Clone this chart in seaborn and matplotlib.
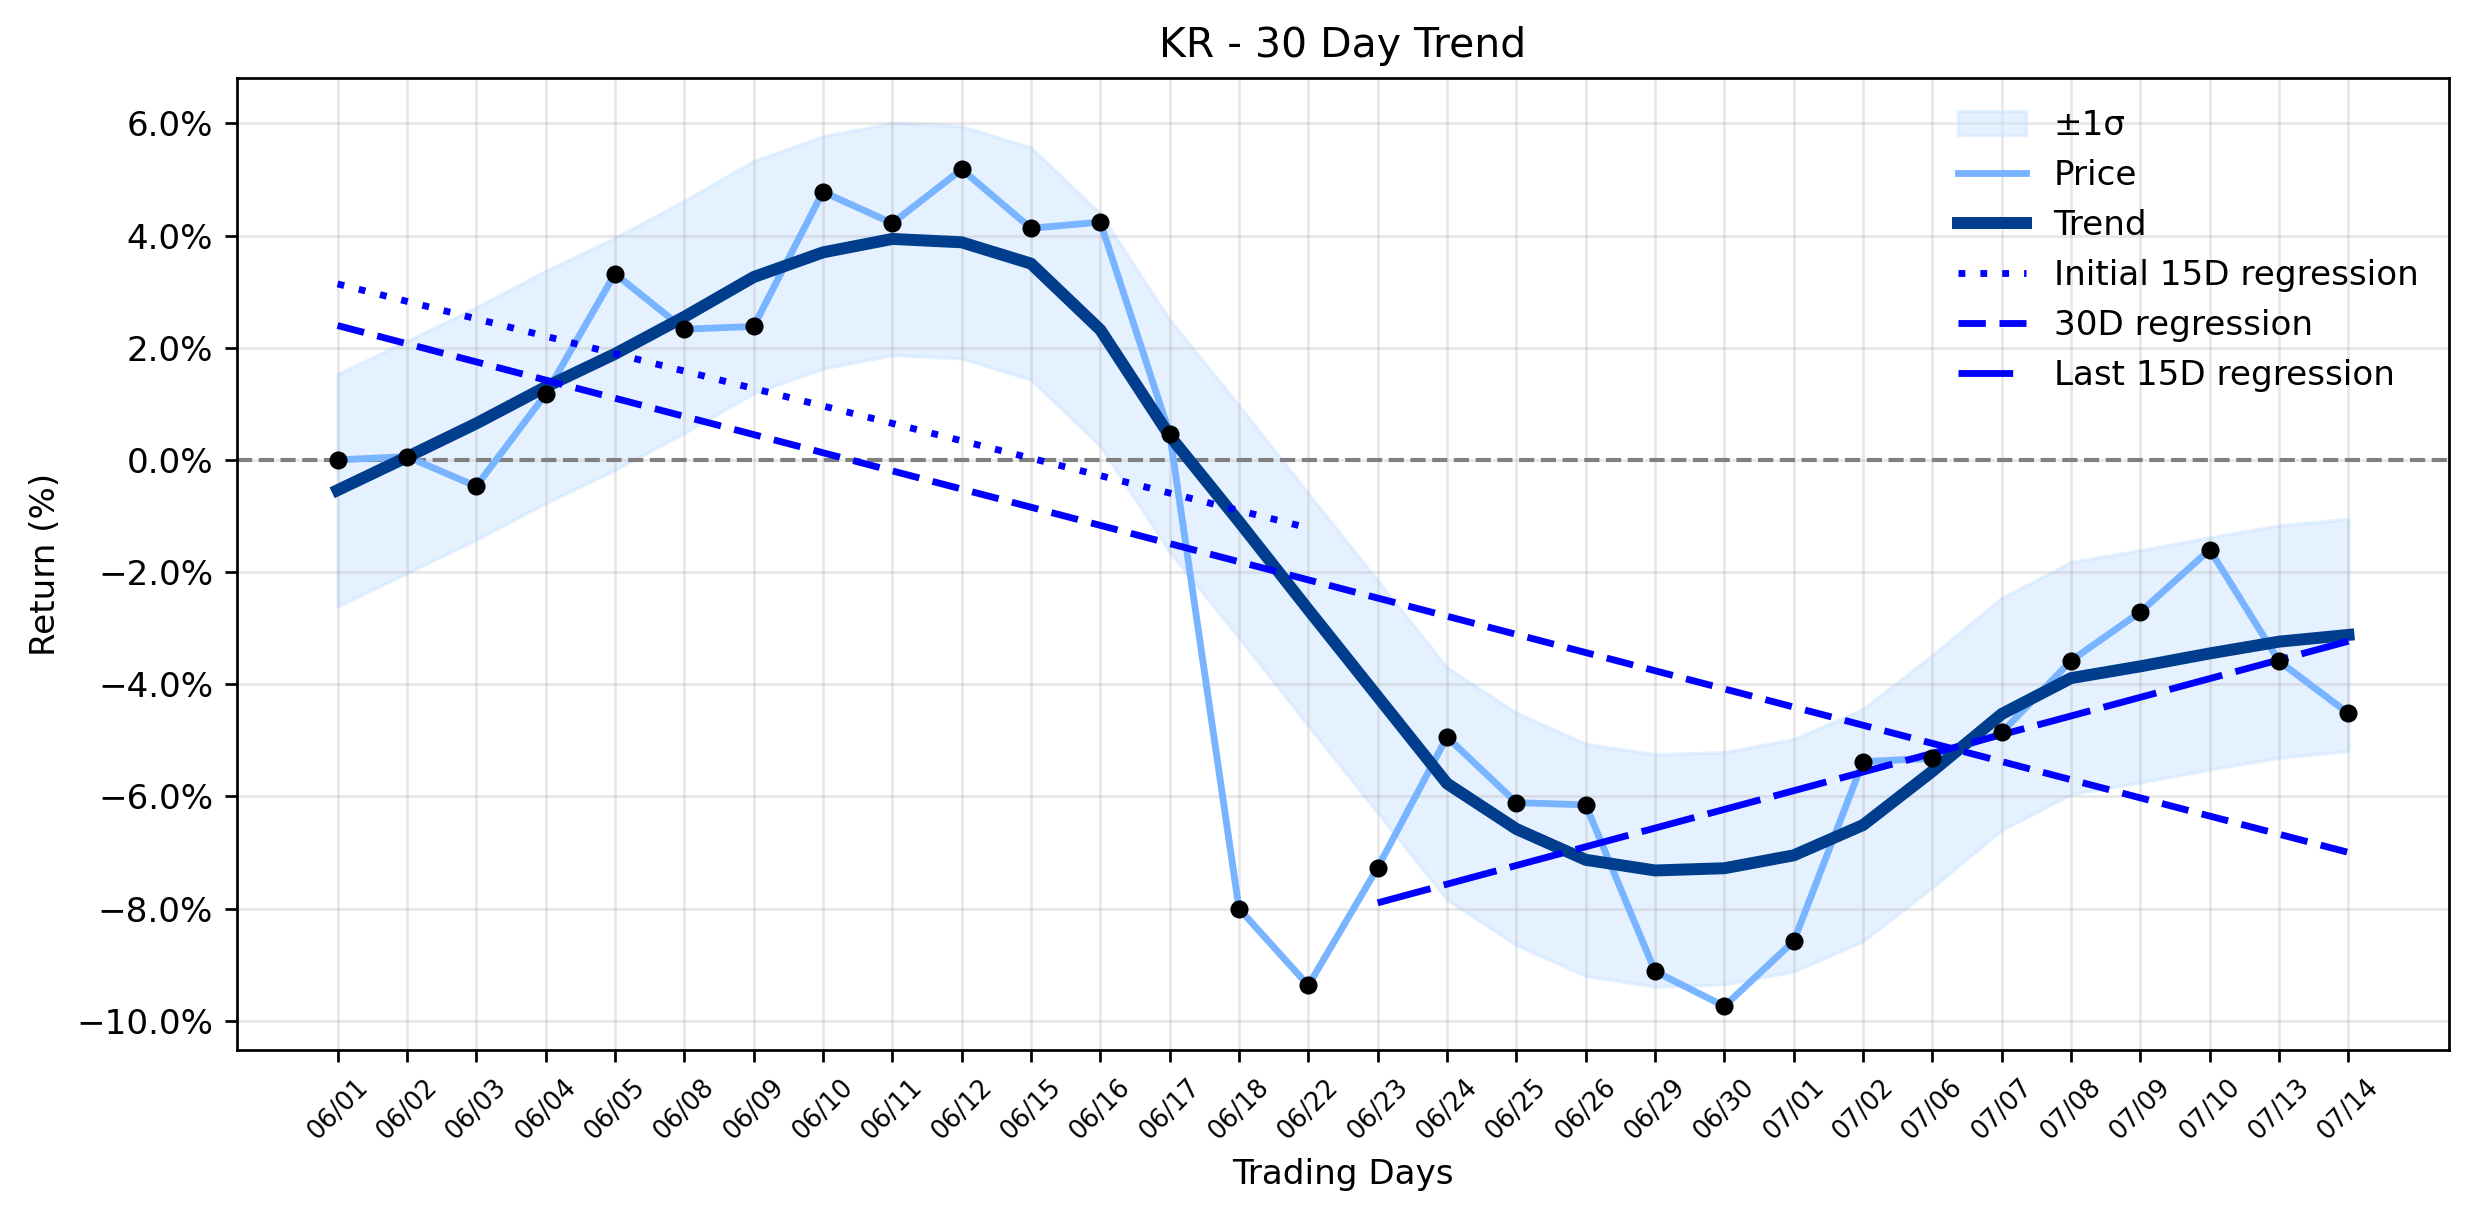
import numpy as np
import pandas as pd
import matplotlib
matplotlib.use("Agg")
import matplotlib.pyplot as plt
from matplotlib.ticker import PercentFormatter
import seaborn as sns

# ---- data (percent returns) ----
dates = ["06/01", "06/02", "06/03", "06/04", "06/05", "06/08", "06/09", "06/10",
         "06/11", "06/12", "06/15", "06/16", "06/17", "06/18", "06/22", "06/23",
         "06/24", "06/25", "06/26", "06/29", "06/30", "07/01", "07/02", "07/06",
         "07/07", "07/08", "07/09", "07/10", "07/13", "07/14"]
price = [0.00, 0.06, -0.47, 1.17, 3.32, 2.33, 2.38, 4.78, 4.22, 5.18, 4.13, 4.24,
         0.47, -8.00, -9.37, -7.27, -4.94, -6.11, -6.15, -9.12, -9.74, -8.58,
         -5.38, -5.32, -4.86, -3.58, -2.71, -1.60, -3.59, -4.52]
trend = [-0.54, 0.05, 0.65, 1.30, 1.89, 2.55, 3.26, 3.70, 3.94, 3.88, 3.50, 2.32,
         0.43, -1.10, -2.67, -4.22, -5.77, -6.58, -7.13, -7.32, -7.28, -7.05,
         -6.51, -5.55, -4.53, -3.89, -3.68, -3.45, -3.24, -3.12]
band_sigma = 2.07

title = "KR - 30 Day Trend"
xlabel = "Trading Days"
ylabel = "Return (%)"

x = np.arange(len(dates))
df = pd.DataFrame({"x": x, "price": price, "trend": trend})
tr = np.array(trend)

# regressions fitted on the price series
def reg(i0, i1):
    xs = x[i0:i1]
    k, b = np.polyfit(xs, np.array(price)[i0:i1], 1)
    return pd.DataFrame({"x": xs, "y": k * xs + b})

reg_init = reg(0, 15)
reg_all = reg(0, 30)
reg_last = reg(15, 30)

DPI = 246
fig, ax = plt.subplots(figsize=(2474 / DPI, 1224 / DPI), dpi=DPI)
fig.subplots_adjust(left=0.0958, right=0.9899, bottom=0.1422, top=0.9363)

ax.fill_between(x, tr - band_sigma, tr + band_sigma, color="#cce5ff", alpha=0.5,
                label="±1σ")
ax.axhline(0, color="gray", ls="--", lw=1.2)
sns.lineplot(data=df, x="x", y="price", color="#78b4ff", lw=2, label="Price", ax=ax)
sns.lineplot(data=df, x="x", y="trend", color="#003d8c", lw=3.5, label="Trend", ax=ax)
sns.lineplot(data=reg_init, x="x", y="y", color="#0000ff", lw=2,
             linestyle=(0, (1, 2.2)), label="Initial 15D regression", ax=ax)
sns.lineplot(data=reg_all, x="x", y="y", color="#0000ff", lw=2,
             linestyle=(0, (4, 2)), label="30D regression", ax=ax)
sns.lineplot(data=reg_last, x="x", y="y", color="#0000ff", lw=2,
             linestyle=(0, (8, 2)), label="Last 15D regression", ax=ax)
sns.scatterplot(data=df, x="x", y="price", color="black", s=28, linewidth=0,
                zorder=5, legend=False, ax=ax)

ax.set_xlim(-1.45, 30.45)
ax.set_ylim(-10.52, 6.81)
ax.set_xticks(x)
ax.set_xticklabels(dates, rotation=45, fontsize=7.5)
ax.yaxis.set_major_formatter(PercentFormatter(decimals=1))
ax.tick_params(axis="y", labelsize=10)
ax.grid(True, alpha=0.3)
ax.set_title(title, fontsize=12)
ax.set_xlabel(xlabel, fontsize=10)
ax.set_ylabel(ylabel, fontsize=10)
ax.legend(loc="upper right", frameon=False, fontsize=10)

fig.savefig("out.png", dpi=DPI)
